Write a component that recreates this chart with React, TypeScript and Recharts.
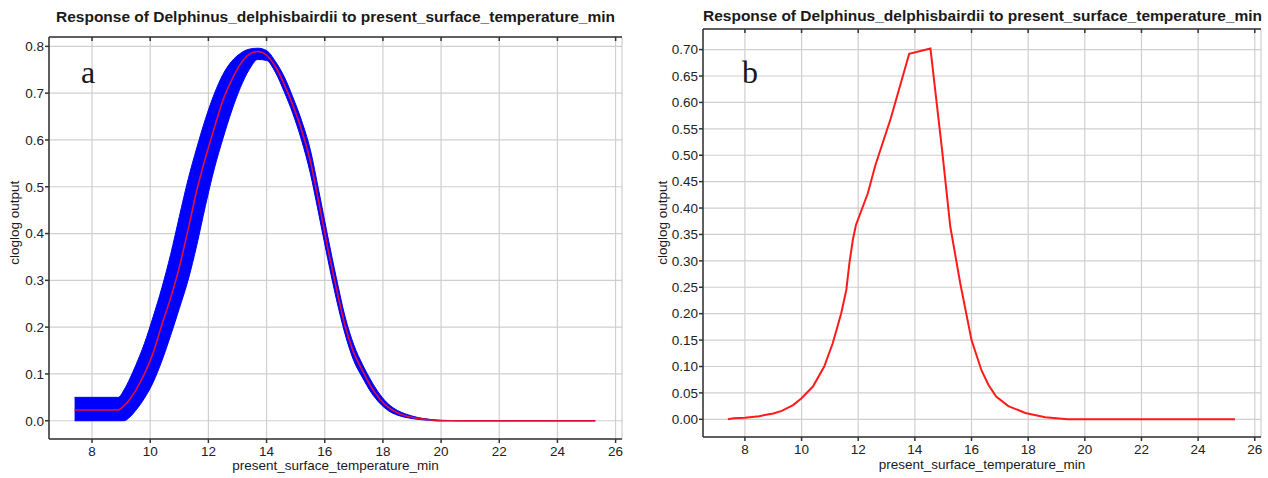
import React from 'react'
import {
  ComposedChart, LineChart, Line, Area, XAxis, YAxis, CartesianGrid
} from 'recharts'

// Panel a: mean response (red) with +/- band (blue)
const A_X = [7.4, 8.0, 8.9, 9.1, 9.3, 9.5, 9.8, 10.1, 10.4, 10.7, 11.0, 11.3, 11.6, 11.9, 12.2, 12.5, 12.8, 13.1, 13.4, 13.7, 14.0, 14.3, 14.6, 14.9, 15.2, 15.5, 15.8, 16.1, 16.4, 16.7, 17.0, 17.3, 17.6, 17.9, 18.2, 18.5, 18.8, 19.2, 19.6, 20.0, 21.0, 25.3]
const A_MEAN = [0.023, 0.023, 0.023, 0.032, 0.046, 0.065, 0.100, 0.145, 0.205, 0.262, 0.328, 0.408, 0.492, 0.562, 0.625, 0.685, 0.728, 0.762, 0.783, 0.789, 0.781, 0.757, 0.720, 0.675, 0.622, 0.556, 0.465, 0.370, 0.283, 0.203, 0.145, 0.107, 0.072, 0.046, 0.028, 0.017, 0.010, 0.005, 0.002, 0.000, 0, 0]
const A_LO = [0.000, 0.000, 0.000, 0.000, 0.008, 0.022, 0.048, 0.082, 0.128, 0.182, 0.240, 0.300, 0.375, 0.460, 0.538, 0.603, 0.662, 0.712, 0.750, 0.772, 0.770, 0.745, 0.704, 0.657, 0.600, 0.530, 0.440, 0.347, 0.260, 0.185, 0.128, 0.092, 0.060, 0.037, 0.021, 0.012, 0.007, 0.003, 0.001, 0.000, 0, 0]
const A_HI = [0.050, 0.050, 0.050, 0.066, 0.090, 0.118, 0.165, 0.222, 0.284, 0.355, 0.436, 0.515, 0.583, 0.645, 0.698, 0.740, 0.768, 0.785, 0.794, 0.796, 0.791, 0.768, 0.736, 0.692, 0.642, 0.580, 0.490, 0.395, 0.305, 0.222, 0.162, 0.120, 0.085, 0.056, 0.035, 0.022, 0.014, 0.007, 0.003, 0.001, 0, 0]

// Panel b: single response curve
const B_X = [7.4, 7.6, 8.0, 8.5, 9.0, 9.3, 9.7, 10.0, 10.4, 10.8, 11.1, 11.4, 11.58, 11.69, 11.81, 11.92, 12.34, 12.6, 13.04, 13.15, 13.8, 14.55, 14.96, 15.25, 15.6, 16.0, 16.35, 16.6, 16.87, 17.3, 17.9, 18.6, 19.4, 25.3]
const B_Y = [0.0, 0.002, 0.003, 0.006, 0.011, 0.016, 0.027, 0.040, 0.062, 0.100, 0.144, 0.201, 0.245, 0.296, 0.340, 0.368, 0.428, 0.480, 0.552, 0.570, 0.692, 0.702, 0.510, 0.365, 0.258, 0.150, 0.093, 0.065, 0.043, 0.025, 0.012, 0.004, 0.0, 0.0]

const X_TICKS = [8, 10, 12, 14, 16, 18, 20, 22, 24, 26]
const A_Y_TICKS = [0, 0.1, 0.2, 0.3, 0.4, 0.5, 0.6, 0.7, 0.8]
const B_Y_TICKS = [0, 0.05, 0.1, 0.15, 0.2, 0.25, 0.3, 0.35, 0.4, 0.45, 0.5, 0.55, 0.6, 0.65, 0.7]

const TITLE = 'Response of Delphinus_delphisbairdii to present_surface_temperature_min'
const X_LABEL = 'present_surface_temperature_min'
const Y_LABEL = 'cloglog output'

const FONT = '"Liberation Sans", Arial, Helvetica, sans-serif'
const AXIS = '#333'
const GRID = '#cfcfcf'
const TICK = { fill: '#222', fontSize: 13.5, fontFamily: FONT }

const aData = A_X.map((x, i) => ({ x, mean: A_MEAN[i], band: [A_LO[i], A_HI[i]] }))
const bData = B_X.map((x, i) => ({ x, y: B_Y[i] }))

function Text({ left, top, width, size, bold, serif, children, rotate }: any) {
  return (
    <div style={{
      position: 'absolute', left, top, width, textAlign: 'center',
      fontFamily: serif ? '"Liberation Serif", "Times New Roman", serif' : FONT,
      fontSize: size, fontWeight: bold ? 'bold' : 'normal', color: '#1a1a1a',
      lineHeight: `${size + 2}px`, whiteSpace: 'nowrap',
      transform: rotate ? 'rotate(-90deg)' : undefined
    }}>{children}</div>
  )
}

export default function App() {
  const xDom = [6.52, 26.22]
  return (
    <div style={{ position: 'absolute', left: 0, top: 0, width: 1268, height: 478, background: '#fff' }}>
      <div style={{ position: 'absolute', left: 0, top: 0 }}>
        <ComposedChart width={640} height={478} data={aData} margin={{ top: 37, right: 18, bottom: 9, left: 9 }}>
          <CartesianGrid stroke={GRID} strokeWidth={1.2} />
          <XAxis type="number" dataKey="x" domain={xDom} ticks={X_TICKS} allowDataOverflow
            height={30} stroke={AXIS} strokeWidth={1.5} tickSize={4} tickMargin={3} tick={TICK} />
          <XAxis xAxisId="top" orientation="top" type="number" dataKey="x" domain={xDom} ticks={X_TICKS}
            allowDataOverflow mirror stroke={AXIS} strokeWidth={1.5} tickSize={4} tickFormatter={() => ''} />
          <YAxis type="number" domain={[-0.039, 0.82]} ticks={A_Y_TICKS} allowDataOverflow width={40}
            stroke={AXIS} strokeWidth={1.5} tickSize={4} tickMargin={1} tick={TICK}
            tickFormatter={(v: number) => v.toFixed(1)} />
          <YAxis yAxisId="right" orientation="right" type="number" domain={[-0.039, 0.82]} ticks={A_Y_TICKS}
            allowDataOverflow mirror width={0} stroke={AXIS} strokeWidth={1.5} tickSize={4} tickFormatter={() => ''} />
          <Area type="monotone" dataKey="band" stroke="#0000ff" strokeWidth={1} fill="#0000ff" fillOpacity={1}
            isAnimationActive={false} dot={false} activeDot={false} />
          <Line type="monotone" dataKey="mean" stroke="#e0103a" strokeWidth={1.6} dot={false}
            isAnimationActive={false} activeDot={false} />
        </ComposedChart>
      </div>
      <div style={{ position: 'absolute', left: 640, top: 0 }}>
        <LineChart width={628} height={478} data={bData} margin={{ top: 29, right: 7, bottom: 11, left: 18 }}>
          <CartesianGrid stroke={GRID} strokeWidth={1.2} />
          <XAxis type="number" dataKey="x" domain={xDom} ticks={X_TICKS} allowDataOverflow
            height={30} stroke={AXIS} strokeWidth={1.5} tickSize={4} tickMargin={3} tick={TICK} />
          <XAxis xAxisId="top" orientation="top" type="number" dataKey="x" domain={xDom} ticks={X_TICKS}
            allowDataOverflow mirror stroke={AXIS} strokeWidth={1.5} tickSize={4} tickFormatter={() => ''} />
          <YAxis type="number" domain={[-0.0335, 0.739]} ticks={B_Y_TICKS} allowDataOverflow width={45}
            stroke={AXIS} strokeWidth={1.5} tickSize={4} tickMargin={1} tick={TICK}
            tickFormatter={(v: number) => v.toFixed(2)} />
          <YAxis yAxisId="right" orientation="right" type="number" domain={[-0.0335, 0.739]} ticks={B_Y_TICKS}
            allowDataOverflow mirror width={0} stroke={AXIS} strokeWidth={1.5} tickSize={4} tickFormatter={() => ''} />
          <Line type="linear" dataKey="y" stroke="#ff1a1a" strokeWidth={2} dot={false}
            isAnimationActive={false} activeDot={false} />
        </LineChart>
      </div>

      <Text left={49} top={8} width={573} size={15.5} bold>{TITLE}</Text>
      <Text left={703} top={7} width={558} size={15.5} bold>{TITLE}</Text>

      <Text left={49} top={458} width={573} size={13.5}>{X_LABEL}</Text>
      <Text left={703} top={457} width={558} size={13.5}>{X_LABEL}</Text>

      <Text left={-40} top={215} width={110} size={13.5} rotate>{Y_LABEL}</Text>
      <Text left={608} top={215} width={110} size={13.5} rotate>{Y_LABEL}</Text>

      <Text left={73} top={55} width={30} size={32} serif>a</Text>
      <Text left={735} top={55} width={30} size={32} serif>b</Text>
    </div>
  )
}
